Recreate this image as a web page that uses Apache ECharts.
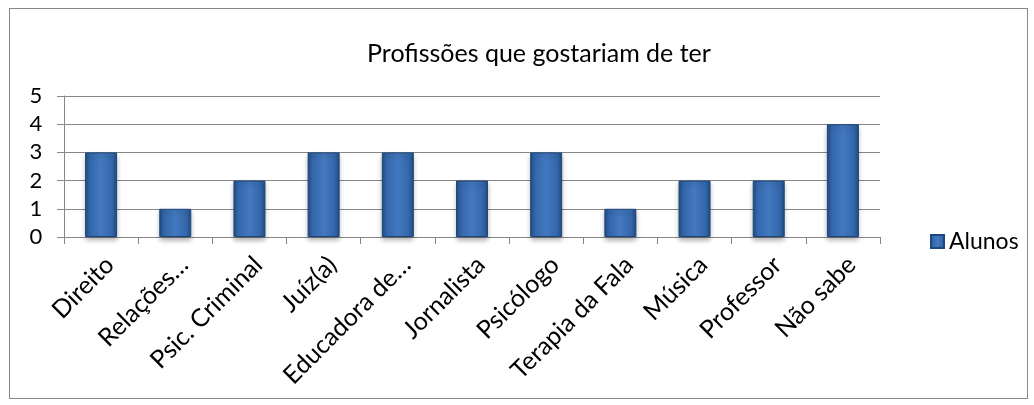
<!DOCTYPE html>
<html>
<head>
<meta charset="utf-8">
<script src="https://cdn.jsdelivr.net/npm/echarts@6/dist/echarts.min.js"></script>
<style>
  html, body { margin: 0; padding: 0; background: #fff; }
  #chart { width: 1034px; height: 405px; }
  .frame { position: absolute; left: 9px; top: 8px; width: 1017px; height: 389px; border: 1px solid #888; pointer-events: none; }
</style>
</head>
<body>
<div id="chart"></div>
<div class="frame"></div>
<script>
const categories = ['Direito', 'Relações…', 'Psic. Criminal', 'Juíz(a)', 'Educadora de…', 'Jornalista', 'Psicólogo', 'Terapia da Fala', 'Música', 'Professor', 'Não sabe']
const alunos = [3, 1, 2, 3, 3, 2, 3, 1, 2, 2, 4]
const yTicks = [0, 1, 2, 3, 4, 5]

const font = 'Lato, "Open Sans", sans-serif'
const barColor = new echarts.graphic.LinearGradient(0, 0, 1, 0, [
  { offset: 0, color: '#234d80' },
  { offset: 0.15, color: '#3467ab' },
  { offset: 0.5, color: '#4379c0' },
  { offset: 0.85, color: '#3467ab' },
  { offset: 1, color: '#234d80' },
])

const chart = echarts.init(document.getElementById('chart'))
chart.setOption({
  animation: false,
  title: {
    text: 'Profissões que gostariam de ter',
    left: 534, top: 36, textAlign: 'center',
    textStyle: { fontFamily: font, fontSize: 25, fontWeight: 'normal', color: '#000' },
  },
  legend: {
    data: ['Alunos'],
    left: 925, top: 225, orient: 'vertical',
    itemWidth: 13, itemHeight: 13, itemGap: 6,
    icon: 'rect',
    textStyle: { fontFamily: font, fontSize: 23, color: '#000' },
  },
  grid: { left: 64, right: 154, top: 96, bottom: 168 },
  xAxis: {
    type: 'category',
    data: categories,
    axisLine: { lineStyle: { color: '#868686', width: 1 } },
    axisTick: { show: true, alignWithLabel: false, length: 7, lineStyle: { color: '#868686' } },
    axisLabel: { rotate: 45, interval: 0, margin: 15, verticalAlign: 'top', fontFamily: font, fontSize: 25, color: '#000' },
  },
  yAxis: {
    type: 'value',
    min: yTicks[0], max: yTicks[yTicks.length - 1], interval: 1,
    axisLine: { show: true, lineStyle: { color: '#868686', width: 1 } },
    axisTick: { show: true, length: 7, lineStyle: { color: '#868686' } },
    splitLine: { lineStyle: { color: '#868686', width: 1 } },
    axisLabel: { margin: 28, fontFamily: font, fontSize: 22, color: '#000', align: 'center' },
  },
  series: [{
    name: 'Alunos',
    type: 'bar',
    data: alunos,
    barWidth: 32,
    itemStyle: {
      color: barColor,
      borderColor: '#1d477e', borderWidth: 1,
      shadowColor: 'rgba(0,0,0,0.3)', shadowBlur: 5, shadowOffsetY: 3,
    },
  }],
})
</script>
</body>
</html>
